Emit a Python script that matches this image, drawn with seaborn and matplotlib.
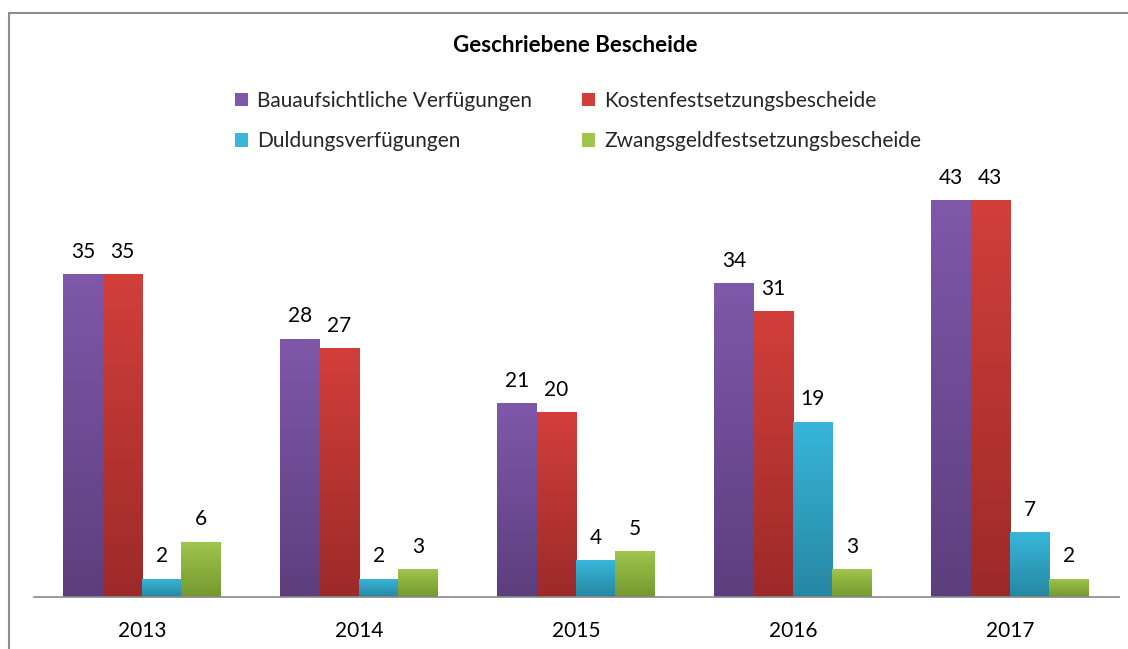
import matplotlib
matplotlib.use("Agg")
import matplotlib.pyplot as plt
import matplotlib.colors as mcolors
from matplotlib.lines import Line2D
from matplotlib.patches import Rectangle
import numpy as np
import pandas as pd
import seaborn as sns

years = ["2013", "2014", "2015", "2016", "2017"]
series = ["Bauaufsichtliche Verfügungen", "Kostenfestsetzungsbescheide",
          "Duldungsverfügungen", "Zwangsgeldfestsetzungsbescheide"]
bauaufsicht = [35, 28, 21, 34, 43]
kosten = [35, 27, 20, 31, 43]
duldung = [2, 2, 4, 19, 7]
zwangsgeld = [6, 3, 5, 3, 2]

top_colors = ["#7F58AA", "#D23F3B", "#39B6DA", "#9FC64C"]
bottom_colors = ["#5D3E7D", "#9C2A29", "#2687A2", "#74982F"]

df = pd.DataFrame({
    "Jahr": years * 4,
    "Serie": sum([[s] * 5 for s in series], []),
    "Wert": bauaufsicht + kosten + duldung + zwangsgeld,
})

sns.set_theme(style="white")
plt.rcParams["font.family"] = ["Lato", "DejaVu Sans"]

FS = 15
W, H = 1128, 649
fig = plt.figure(figsize=(W / 100, H / 100), dpi=100)
ax_bottom = 1 - 597 / H
ax_h = 50 * 9.23 / H
ax = fig.add_axes([33.5 / W, ax_bottom, (1118.5 - 33.5) / W, ax_h])

sns.barplot(data=df, x="Jahr", y="Wert", hue="Serie", hue_order=series,
            order=years, palette=top_colors, width=0.724, saturation=1,
            legend=False, ax=ax, linewidth=0, errorbar=None)
ax.set_ylim(0, 50)
ax.set_xlim(-0.5, 4.5)

# gradient fill + labels
for i, cont in enumerate(ax.containers):
    cmap = mcolors.LinearSegmentedColormap.from_list(
        f"g{i}", [bottom_colors[i], top_colors[i]])
    for bar, val in zip(cont.patches, cont.datavalues):
        x0, w, h = bar.get_x(), bar.get_width(), bar.get_height()
        bar.set_facecolor("none")
        grad = np.linspace(0, 1, 256).reshape(-1, 1)
        im = ax.imshow(grad, cmap=cmap, origin="lower", aspect="auto",
                       extent=[x0, x0 + w, 0, h], zorder=2)
        clip = Rectangle((x0, 0), w, h, transform=ax.transData)
        im.set_clip_path(clip)
        ax.annotate(f"{int(val)}", (x0 + w / 2, h), xytext=(0, 16),
                    textcoords="offset points", ha="center", va="center",
                    fontsize=FS, color="black")
ax.set_xlim(-0.5, 4.5)
ax.set_ylim(0, 50)

for s in ["top", "right", "left"]:
    ax.spines[s].set_visible(False)
ax.spines["bottom"].set_color("#888888")
ax.spines["bottom"].set_linewidth(1.2)
ax.set_yticks([])
ax.set_xlabel("")
ax.set_ylabel("")
ax.tick_params(axis="x", length=0, labelsize=FS, pad=17, colors="black")

# title
fig.text(575 / W, 1 - 45 / H, "Geschriebene Bescheide", ha="center",
         va="center", fontsize=16, fontweight="bold", color="black")

# legend
handles = [Rectangle((0, 0), 1, 1, facecolor=c, edgecolor="none") for c in top_colors]
order = [0, 2, 1, 3]
leg = fig.legend([handles[k] for k in order], [series[k] for k in order],
                 ncol=2, loc="center", bbox_to_anchor=(578 / W, 1 - 121 / H),
                 frameon=False, fontsize=FS, handlelength=0.62, handleheight=0.62,
                 handletextpad=0.45, columnspacing=2.4, labelspacing=1.0)

# outer frame
fig.add_artist(Line2D([9 / W, 1], [1 - 13 / H, 1 - 13 / H],
                      transform=fig.transFigure, color="#8c8c8c", lw=1.5))
fig.add_artist(Line2D([9 / W, 9 / W], [0, 1 - 13 / H],
                      transform=fig.transFigure, color="#8c8c8c", lw=1.5))

fig.savefig("out.png", dpi=100)
